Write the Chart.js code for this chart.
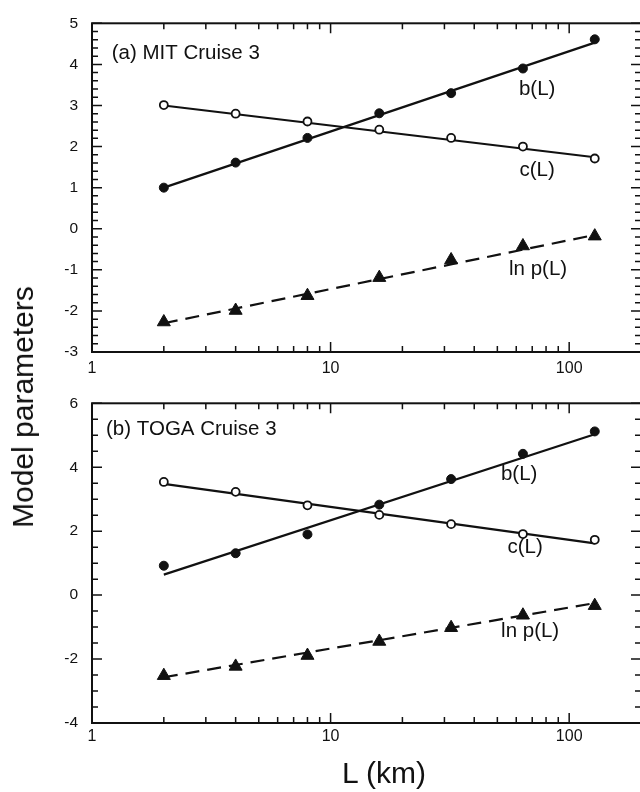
<!DOCTYPE html>
<html>
<head>
<meta charset="utf-8">
<script src="https://cdn.jsdelivr.net/npm/chart.js@4"></script>
<style>
  body { margin: 0; width: 640px; height: 792px; overflow: hidden; background: #fff; position: relative; font-family: "Liberation Sans", Arial, sans-serif; }
  canvas { position: absolute; left: 0; }
  #top { top: 0; }
  #bottom { top: 380px; }
  .title { position: absolute; color: #111; white-space: nowrap; }
  #ytitle { left: 23px; top: 407px; font-size: 30px; transform: translate(-50%, -50%) rotate(-90deg); }
  #xtitle { left: 384px; top: 773px; font-size: 30px; transform: translate(-50%, -50%); }
</style>
</head>
<body>
<canvas id="top" width="660" height="380"></canvas>
<canvas id="bottom" width="660" height="412"></canvas>
<div id="ytitle" class="title">Model parameters</div>
<div id="xtitle" class="title">L (km)</div>
<script>
// scale lengths L (km)
const lengthKm = [2, 4, 8, 16, 32, 64, 128];
const fitEnds = [2, 128];

// (a) MIT Cruise 3
const mitB = [1.0, 1.61, 2.21, 2.81, 3.30, 3.90, 4.61];
const mitC = [3.01, 2.80, 2.61, 2.41, 2.21, 2.00, 1.71];
const mitLnP = [-2.27, -1.99, -1.63, -1.19, -0.76, -0.42, -0.18];
const mitBFit = [1.0, 4.53];
const mitCFit = [3.0, 1.74];
const mitLnPFit = [-2.30, -0.15];

// (b) TOGA Cruise 3
const togaB = [0.92, 1.31, 1.90, 2.83, 3.63, 4.42, 5.12];
const togaC = [3.54, 3.23, 2.81, 2.51, 2.22, 1.91, 1.73];
const togaLnP = [-2.52, -2.23, -1.89, -1.45, -1.02, -0.63, -0.33];
const togaBFit = [0.64, 5.03];
const togaCFit = [3.48, 1.62];
const togaLnPFit = [-2.57, -0.25];

// axis ticks
const xLabels = [1, 10, 100];
const xMajor = [10, 100];
const xMinor = [2, 3, 4, 5, 6, 7, 8, 9, 20, 30, 40, 50, 60, 70, 80, 90];
const mitYLabels = [-3, -2, -1, 0, 1, 2, 3, 4, 5];
const togaYLabels = [-4, -2, 0, 2, 4, 6];

const FONT = '"Liberation Sans", Arial, sans-serif';

function pts(xs, ys) {
  return xs.map((x, i) => ({ x: x, y: ys[i] }));
}

function minorSteps(min, max, step) {
  let out = [];
  for (let v = min; v <= max + 1e-9; v += step) out.push(+v.toFixed(3));
  return out;
}

// frame, inward ticks and in-plot labels
const framePlugin = {
  id: 'frame',
  afterDatasetsDraw(chart, args, opts) {
    const { ctx, chartArea: a } = chart;
    const x = chart.scales.x, y = chart.scales.y;
    ctx.save();
    ctx.strokeStyle = '#111';
    ctx.lineWidth = 1.5;
    ctx.beginPath();
    xMajor.forEach(v => {
      const px = x.getPixelForValue(v);
      ctx.moveTo(px, a.bottom); ctx.lineTo(px, a.bottom - 10);
      ctx.moveTo(px, a.top); ctx.lineTo(px, a.top + 10);
    });
    xMinor.forEach(v => {
      const px = x.getPixelForValue(v);
      ctx.moveTo(px, a.bottom); ctx.lineTo(px, a.bottom - 6);
      ctx.moveTo(px, a.top); ctx.lineTo(px, a.top + 6);
    });
    opts.yMinor.forEach(v => {
      const py = y.getPixelForValue(v);
      const len = opts.yMajor.some(m => Math.abs(m - v) < 1e-6) ? 10 : 6;
      ctx.moveTo(a.left, py); ctx.lineTo(a.left + len, py);
      ctx.moveTo(a.right, py); ctx.lineTo(a.right - len, py);
    });
    ctx.stroke();
    ctx.lineWidth = 2;
    ctx.strokeRect(a.left, a.top, a.width, a.height);

    ctx.fillStyle = '#111';
    ctx.textBaseline = 'middle';
    opts.labels.forEach(l => {
      ctx.font = '20.5px ' + FONT;
      ctx.textAlign = l.align || 'center';
      ctx.fillText(l.text, x.getPixelForValue(l.x), y.getPixelForValue(l.y));
    });
    ctx.restore();
  }
};

function makeChart(id, cfg) {
  new Chart(document.getElementById(id), {
    type: 'scatter',
    data: {
      datasets: [
        { data: pts(lengthKm, cfg.b), pointStyle: 'circle', pointRadius: 4.5, backgroundColor: '#111', borderColor: '#111', borderWidth: 1 },
        { data: pts(lengthKm, cfg.c), pointStyle: 'circle', pointRadius: 4, backgroundColor: '#fff', borderColor: '#111', borderWidth: 1.8 },
        { data: pts(lengthKm, cfg.lnp), pointStyle: 'triangle', pointRadius: 7.5, backgroundColor: '#111', borderColor: '#111', borderWidth: 1 },
        { data: pts(fitEnds, cfg.bFit), showLine: true, pointRadius: 0, borderColor: '#111', borderWidth: 2.2 },
        { data: pts(fitEnds, cfg.cFit), showLine: true, pointRadius: 0, borderColor: '#111', borderWidth: 2.2 },
        { data: pts(fitEnds, cfg.lnpFit), showLine: true, pointRadius: 0, borderColor: '#111', borderWidth: 2.2, borderDash: [14, 8] }
      ]
    },
    options: {
      responsive: false,
      animation: false,
      events: [],
      layout: { padding: { top: cfg.padTop, right: 19, left: 0, bottom: 0 } },
      scales: {
        x: {
          type: 'logarithmic', min: 1, max: 200,
          afterBuildTicks: s => { s.ticks = xLabels.map(v => ({ value: v })); },
          afterFit: s => { s.height = cfg.xHeight; },
          grid: { display: false, drawTicks: false },
          border: { display: false },
          ticks: { color: '#111', padding: cfg.xPad, maxRotation: 0, font: { size: 16, family: FONT }, callback: v => String(v) }
        },
        y: {
          min: cfg.yMin, max: cfg.yMax,
          afterBuildTicks: s => { s.ticks = cfg.yLabels.map(v => ({ value: v })); },
          afterFit: s => { s.width = 92; },
          grid: { display: false, drawTicks: false },
          border: { display: false },
          ticks: { color: '#111', padding: 14, font: { size: 15.5, family: FONT } }
        }
      },
      plugins: {
        legend: { display: false },
        tooltip: { enabled: false },
        frame: { yMajor: cfg.yLabels, yMinor: cfg.yMinor, labels: cfg.labels }
      }
    },
    plugins: [framePlugin]
  });
}

makeChart('top', {
  b: mitB, c: mitC, lnp: mitLnP, bFit: mitBFit, cFit: mitCFit, lnpFit: mitLnPFit,
  yMin: -3, yMax: 5, yLabels: mitYLabels, yMinor: minorSteps(-3, 5, 0.2),
  padTop: 18, xHeight: 28, xPad: 7,
  labels: [
    { text: '(a) MIT Cruise 3', x: 1.21, y: 4.28, align: 'left' },
    { text: 'b(L)', x: 73.4, y: 3.40 },
    { text: 'c(L)', x: 73.4, y: 1.43 },
    { text: 'ln p(L)', x: 74.1, y: -0.99 }
  ]
});

makeChart('bottom', {
  b: togaB, c: togaC, lnp: togaLnP, bFit: togaBFit, cFit: togaCFit, lnpFit: togaLnPFit,
  yMin: -4, yMax: 6, yLabels: togaYLabels, yMinor: minorSteps(-4, 6, 0.5),
  padTop: 8, xHeight: 69, xPad: 4,
  labels: [
    { text: '(b) TOGA Cruise 3', x: 1.145, y: 5.20, align: 'left' },
    { text: 'b(L)', x: 61.7, y: 3.77 },
    { text: 'c(L)', x: 65.4, y: 1.49 },
    { text: 'ln p(L)', x: 68.6, y: -1.14 }
  ]
});
</script>
</body>
</html>
